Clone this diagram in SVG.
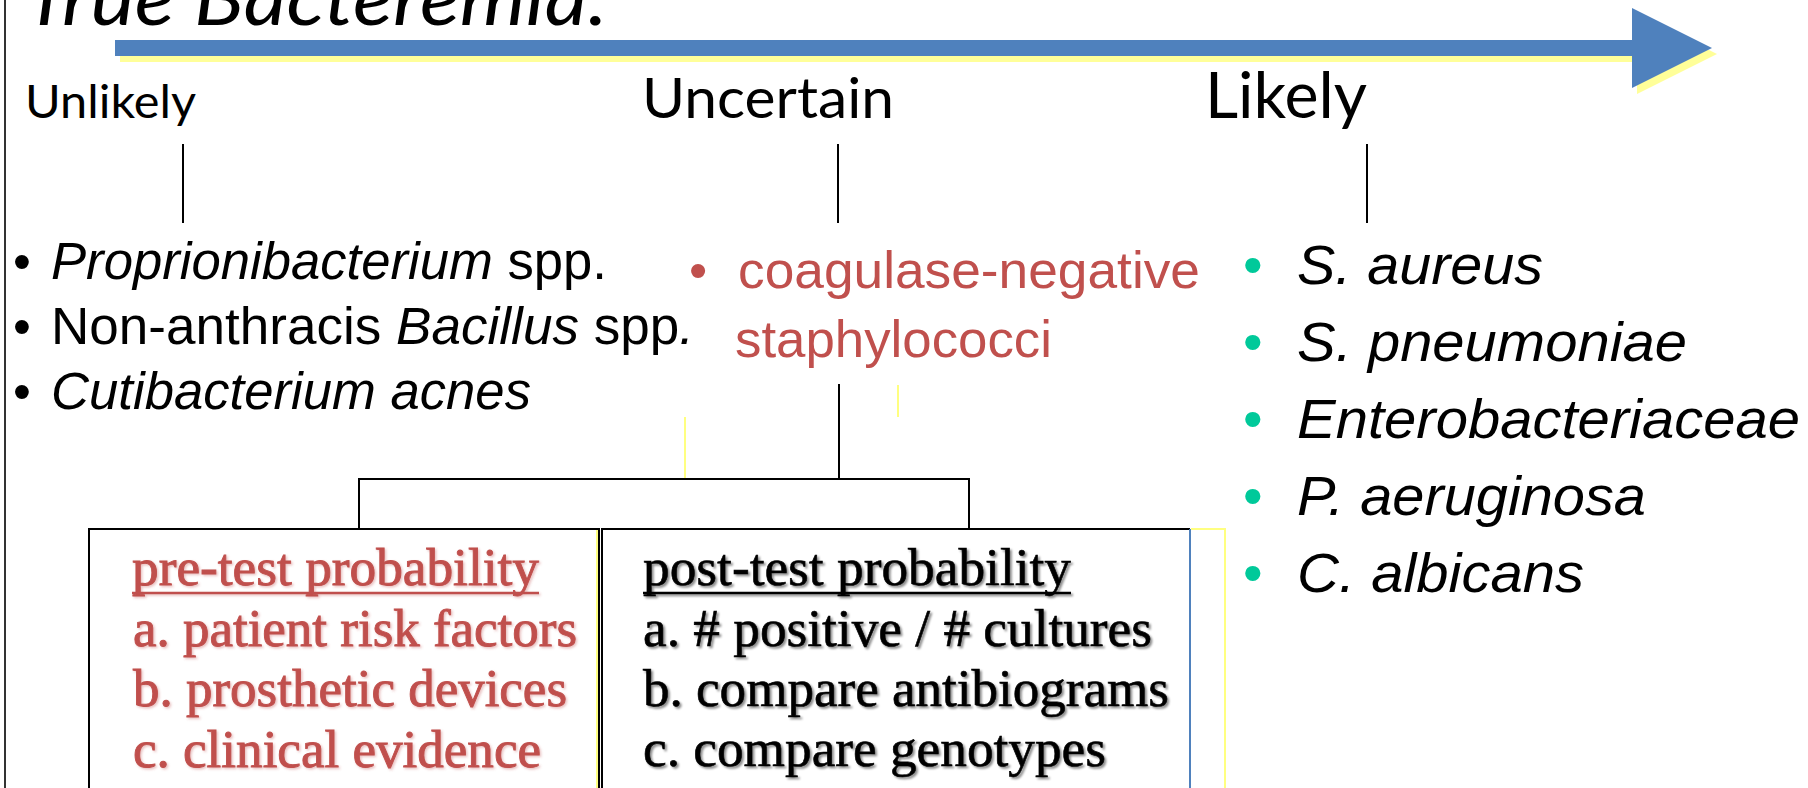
<svg xmlns="http://www.w3.org/2000/svg" width="1808" height="788" viewBox="0 0 1808 788">
<defs>
<style>
.cal{font-family:Lato,"Open Sans","Noto Sans",sans-serif;fill:#000}
.ar{font-family:"Liberation Sans",Arial,sans-serif}
.tm{font-family:"Liberation Serif","Times New Roman",serif}
.red{fill:#C0504D}
.blk{fill:#000}
.it{font-style:italic}
.ln{stroke:#000;stroke-width:2;fill:none}
.yl{stroke:#FFFF80;stroke-width:2;fill:none}
.tb{fill:#00C99A}
.thr{stroke:#C0504D;stroke-width:0.9}
.thb{stroke:#000;stroke-width:0.6}
</style>
<filter id="sh" x="-5%" y="-20%" width="110%" height="140%">
<feDropShadow dx="2" dy="2" stdDeviation="1" flood-color="#000" flood-opacity="0.45"/>
</filter>
<filter id="shr" x="-5%" y="-20%" width="110%" height="140%">
<feDropShadow dx="1.5" dy="1.5" stdDeviation="0.8" flood-color="#C0504D" flood-opacity="0.35"/>
</filter>
</defs>
<rect width="1808" height="788" fill="#fff"/>
<line x1="5" y1="0" x2="5" y2="788" stroke="#333" stroke-width="2"/>

<g id="title">
<text class="cal it" x="24" y="25" font-size="76" textLength="584" lengthAdjust="spacingAndGlyphs">True Bacteremia:</text>
</g>

<g id="axis-arrow">
<polygon points="120,46 1637,46 1637,14 1717,54 1637,94 1637,62 120,62" fill="#FFFF99"/>
<polygon points="115,40 1632,40 1632,8 1712,48 1632,88 1632,56 115,56" fill="#4F81BD"/>
</g>

<g id="label-unlikely"><text class="cal" x="25" y="118" font-size="46" textLength="171" lengthAdjust="spacingAndGlyphs">Unlikely</text></g>
<g id="label-uncertain"><text class="cal" x="642" y="118" font-size="56" textLength="252" lengthAdjust="spacingAndGlyphs">Uncertain</text></g>
<g id="label-likely"><text class="cal" x="1205" y="118" font-size="64" textLength="162" lengthAdjust="spacingAndGlyphs">Likely</text></g>

<g id="connectors">
<line class="ln" x1="183" y1="144" x2="183" y2="223"/>
<line class="ln" x1="838" y1="144" x2="838" y2="223"/>
<line class="ln" x1="1367" y1="144" x2="1367" y2="223"/>
<line class="ln" x1="839" y1="384" x2="839" y2="479"/>
<polyline class="ln" points="359,528 359,479 969,479 969,528"/>
</g>

<g id="shadow-lines">
<line class="yl" x1="898" y1="385" x2="898" y2="417"/>
<line class="yl" x1="685" y1="417" x2="685" y2="478"/>
<polyline class="yl" points="1191,529 1225,529 1225,788"/>
<line class="yl" x1="597" y1="530" x2="597" y2="788"/>
</g>

<g id="list-unlikely" class="ar blk" font-size="51">
<text x="13" y="279">•</text>
<text x="51" y="279" textLength="556" lengthAdjust="spacingAndGlyphs"><tspan class="it">Proprionibacterium</tspan> spp.</text>
<text x="13" y="344">•</text>
<text x="51" y="344" textLength="643" lengthAdjust="spacingAndGlyphs">Non-anthracis <tspan class="it">Bacillus</tspan> spp<tspan class="it">.</tspan></text>
<text x="13" y="409">•</text>
<text x="51" y="409" class="it" textLength="480" lengthAdjust="spacingAndGlyphs">Cutibacterium acnes</text>
</g>

<g id="list-uncertain" class="ar red" font-size="52">
<text x="689" y="288">•</text>
<text x="738" y="288" textLength="462" lengthAdjust="spacingAndGlyphs">coagulase-negative</text>
<text x="735" y="357" textLength="317" lengthAdjust="spacingAndGlyphs">staphylococci</text>
</g>

<g id="list-likely" class="ar" font-size="56">
<text class="tb" x="1243" y="284">•</text>
<text class="it" x="1297" y="284" textLength="246" lengthAdjust="spacingAndGlyphs">S. aureus</text>
<text class="tb" x="1243" y="361">•</text>
<text class="it" x="1297" y="361" textLength="390" lengthAdjust="spacingAndGlyphs">S. pneumoniae</text>
<text class="tb" x="1243" y="438">•</text>
<text class="it" x="1297" y="438" textLength="503" lengthAdjust="spacingAndGlyphs">Enterobacteriaceae</text>
<text class="tb" x="1243" y="515">•</text>
<text class="it" x="1297" y="515" textLength="349" lengthAdjust="spacingAndGlyphs">P. aeruginosa</text>
<text class="tb" x="1243" y="592">•</text>
<text class="it" x="1297" y="592" textLength="287" lengthAdjust="spacingAndGlyphs">C. albicans</text>
</g>

<g id="box-pretest">
<polyline class="ln" points="89,788 89,529 599,529 599,788"/>
<g class="tm red thr" font-size="52" filter="url(#shr)">
<text x="132" y="585" textLength="407" lengthAdjust="spacingAndGlyphs">pre-test probability</text>
<line x1="132" y1="593" x2="539" y2="593" stroke="#C0504D" stroke-width="2.5"/>
<text x="133" y="646" textLength="444" lengthAdjust="spacingAndGlyphs">a. patient risk factors</text>
<text x="133" y="706" textLength="434" lengthAdjust="spacingAndGlyphs">b. prosthetic devices</text>
<text x="133" y="767" textLength="408" lengthAdjust="spacingAndGlyphs">c. clinical evidence</text>
</g>
</g>

<g id="box-posttest">
<polyline class="ln" points="602,788 602,529 1190,529"/>
<line x1="1190" y1="529" x2="1190" y2="788" stroke="#4F81BD" stroke-width="2"/>
<g class="tm blk thb" font-size="52" filter="url(#sh)">
<text x="643" y="585" textLength="428" lengthAdjust="spacingAndGlyphs">post-test probability</text>
<line x1="643" y1="593" x2="1071" y2="593" stroke="#000" stroke-width="2.5"/>
<text x="643" y="646" textLength="509" lengthAdjust="spacingAndGlyphs">a. # positive / # cultures</text>
<text x="643" y="706" textLength="526" lengthAdjust="spacingAndGlyphs">b. compare antibiograms</text>
<text x="643" y="766" textLength="463" lengthAdjust="spacingAndGlyphs">c. compare genotypes</text>
</g>
</g>
</svg>
